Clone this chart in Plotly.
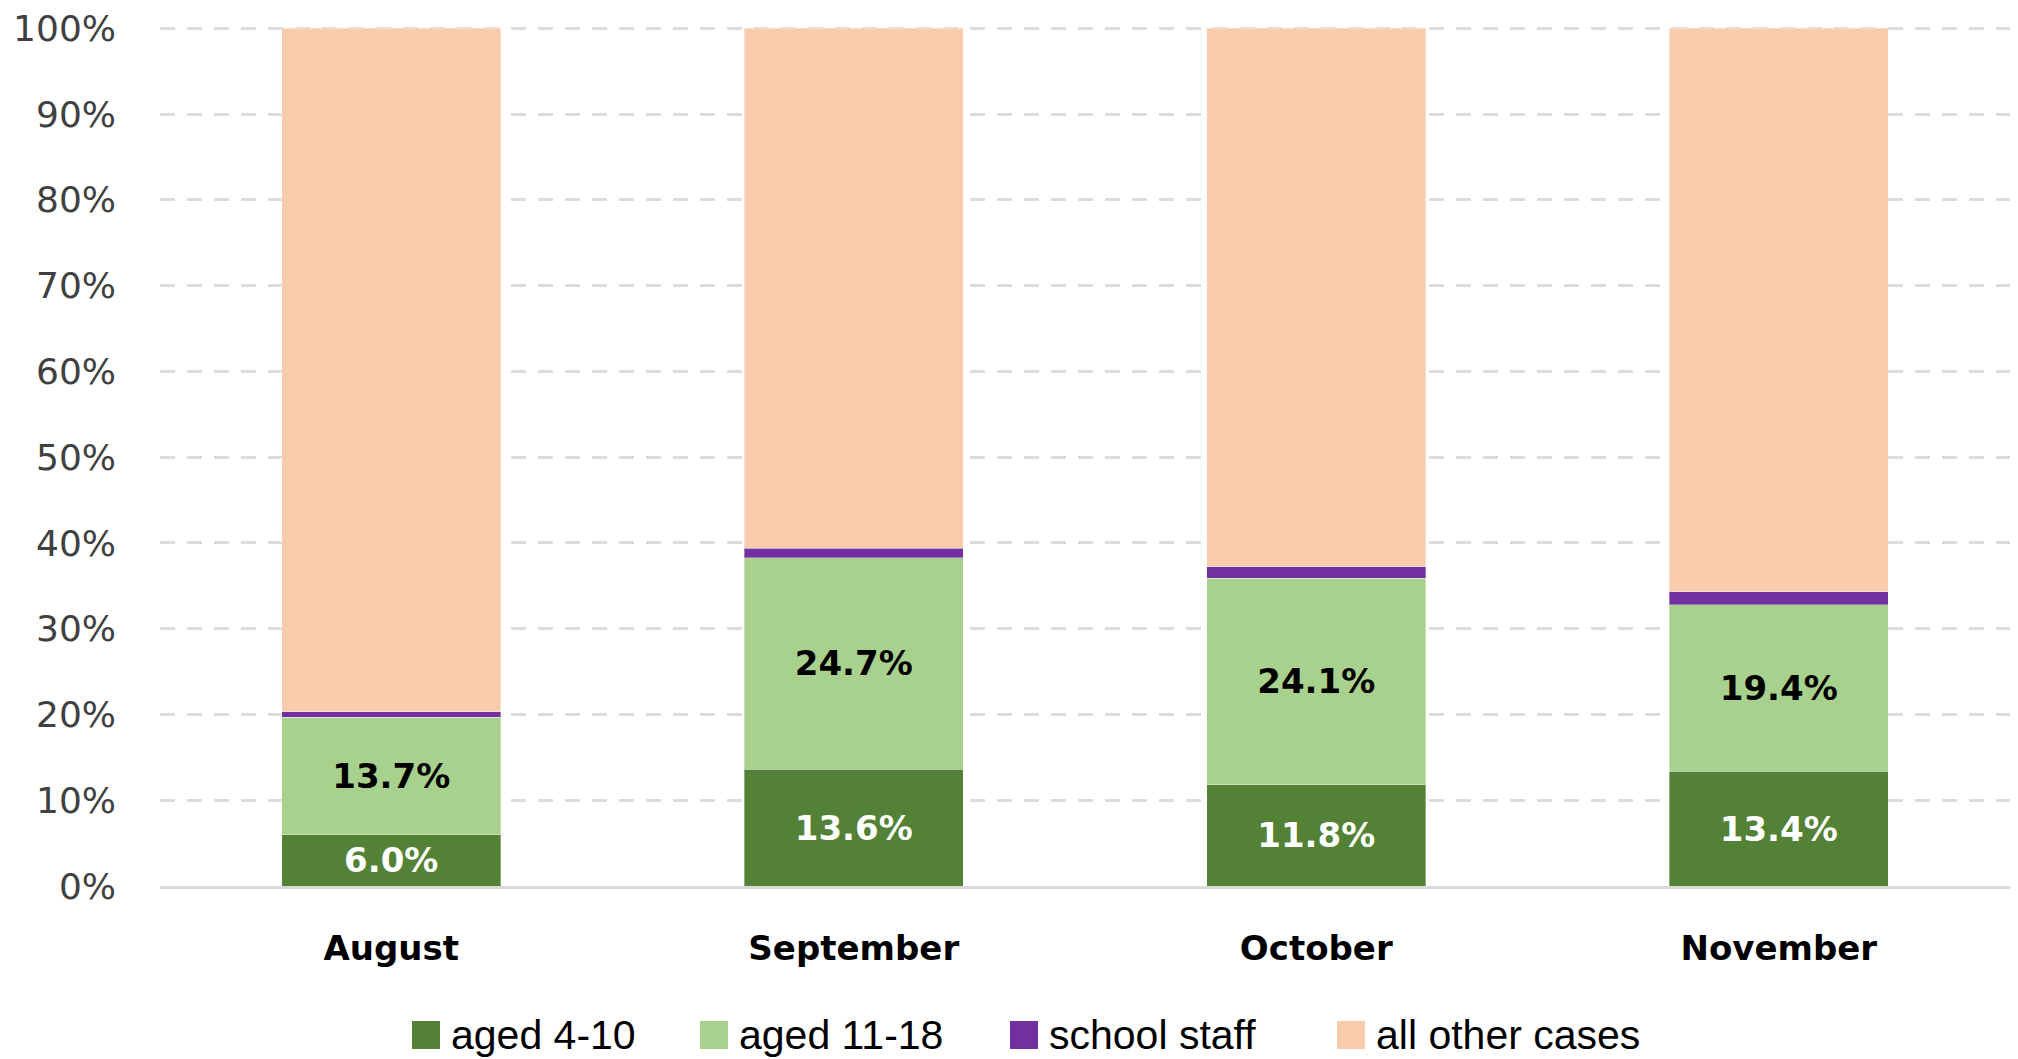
import plotly.graph_objects as go

months = ["August", "September", "October", "November"]
aged_4_10 = [6.0, 13.6, 11.8, 13.4]
aged_11_18 = [13.7, 24.7, 24.1, 19.4]
school_staff = [0.6, 1.1, 1.3, 1.5]
all_other = [round(100 - a - b - c, 1) for a, b, c in zip(aged_4_10, aged_11_18, school_staff)]

y_ticks = [0, 10, 20, 30, 40, 50, 60, 70, 80, 90, 100]
y_tick_labels = [f"{v}%" for v in y_ticks]

series = [
    ("aged 4-10", aged_4_10, "#538135", True, "white"),
    ("aged 11-18", aged_11_18, "#A9D18E", True, "black"),
    ("school staff", school_staff, "#7030A0", False, None),
    ("all other cases", all_other, "#F8CBAD", False, None),
]

W, H = 2018, 1059
ML, MR, MT, MB = 160, 8, 24, 173
PW, PH = W - ML - MR, H - MT - MB


def px_x(p):
    return (p - ML) / PW


def px_y(p):
    return (H - MB - p) / PH


fig = go.Figure()
for name, vals, color, show_text, tcolor in series:
    fig.add_trace(go.Bar(
        name=name,
        x=months,
        y=vals,
        marker=dict(color=color, line=dict(color="rgba(255,255,255,0.35)", width=1)),
        text=[f"{v:.1f}%" for v in vals] if show_text else None,
        textposition="inside" if show_text else "none",
        insidetextanchor="middle",
        constraintext="none",
        textfont=dict(family="DejaVu Sans", size=34, color=tcolor or "black", weight="bold"),
        hoverinfo="skip",
        showlegend=False,
    ))

# legend drawn as layout shapes + annotations (larger squares as in the reference)
legend_square_x = [412, 700, 1010, 1337]
sq = 28
leg_cy = 1035
shapes = []
annotations = []
for (name, _, color, _, _), sx in zip(series, legend_square_x):
    shapes.append(dict(
        type="rect", xref="paper", yref="paper",
        x0=px_x(sx), x1=px_x(sx + sq),
        y0=px_y(leg_cy + sq / 2), y1=px_y(leg_cy - sq / 2),
        fillcolor=color, line=dict(width=0),
    ))
    annotations.append(dict(
        xref="paper", yref="paper",
        x=px_x(sx + sq + 9), y=px_y(leg_cy),
        xanchor="left", yanchor="middle",
        text=name, showarrow=False,
        font=dict(family="Liberation Sans, Arial", size=41, color="#000000"),
    ))

fig.update_layout(
    barmode="stack",
    bargap=0.526,
    width=W,
    height=H,
    margin=dict(l=ML, r=MR, t=MT, b=MB, autoexpand=False),
    plot_bgcolor="white",
    paper_bgcolor="white",
    showlegend=False,
    shapes=shapes,
    annotations=annotations,
    xaxis=dict(
        automargin=False,
        showgrid=False,
        showline=True,
        linecolor="#D9D9D9",
        linewidth=3,
        ticks="",
        ticklabelstandoff=30,
        tickfont=dict(family="DejaVu Sans", size=34, color="#000000", weight="bold"),
    ),
    yaxis=dict(
        automargin=False,
        range=[0, 100.5],
        tickvals=y_ticks,
        ticktext=y_tick_labels,
        showgrid=True,
        gridcolor="#DCDCDC",
        gridwidth=3,
        griddash="15px,12px",
        zeroline=False,
        showline=False,
        ticks="",
        ticklabelstandoff=43,
        tickfont=dict(family="DejaVu Sans", size=36, color="#404040"),
    ),
)

fig.write_html(
    "out.html",
    config={"displayModeBar": False},
    post_script="document.body.style.margin='0';document.body.style.overflow='hidden';",
)
